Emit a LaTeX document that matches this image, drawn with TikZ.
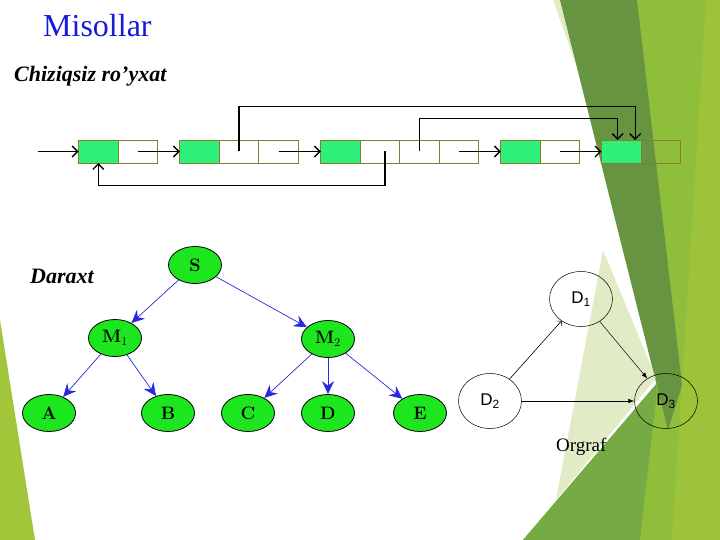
\documentclass[tikz,border=0pt]{standalone}
\usepackage{fontspec}
\newfontfamily\timesfont{Liberation Serif}
\newfontfamily\arialfont{Liberation Sans}
\usetikzlibrary{positioning, arrows.meta, shapes.geometric}
\definecolor{cellgreen}{RGB}{44,240,120}
\definecolor{celledge}{RGB}{135,125,50}
\definecolor{treegreen}{RGB}{30,230,30}
\definecolor{treeblue}{RGB}{40,40,225}
\definecolor{titleblue}{RGB}{25,25,220}
\definecolor{leafgreen}{RGB}{143,190,58}
\definecolor{darkleaf}{RGB}{102,148,64}
\definecolor{midleaf}{RGB}{118,170,68}
\definecolor{paleleaf}{RGB}{205,222,160}
\definecolor{edgeleaf}{RGB}{162,198,58}
\newcommand{\listarrow}{-{Straight Barb[length=5.5pt,width=11pt]}}
\newcommand{\treearrow}{-{Stealth[length=13pt,width=12pt,inset=4.5pt]}}
\newcommand{\openarrow}{-{Straight Barb[length=3pt,width=7pt]}}
\newcommand{\smallarrow}{-{Latex[length=6pt,width=4.5pt]}}
\tikzset{
  cell/.style={draw=celledge, line width=0.8pt, minimum width=39.5pt,
    minimum height=23pt, inner sep=0pt, outer sep=0pt},
  datacell/.style={cell, fill=cellgreen},
  treenode/.style={ellipse, draw, fill=treegreen, line width=0.8pt,
    minimum width=53pt, minimum height=37pt, inner sep=0pt,
    font=\bfseries\fontsize{18}{18}\selectfont},
  vertex/.style={ellipse, draw, line width=0.5pt, minimum width=63pt,
    minimum height=55pt, inner sep=0pt, font=\arialfont\fontsize{17}{17}\selectfont},
  heading/.style={anchor=base west, inner sep=0pt},
}

\begin{document}
\begin{tikzpicture}[x=1pt, y=-1pt]
  \useasboundingbox (0,0) rectangle (720,540);
  % slide background
  \fill[edgeleaf] (0,320) -- (35,540) -- (0,540) -- cycle;
  \fill[leafgreen] (637,0) -- (720,0) -- (720,540) -- (523,540) -- (658,382) -- cycle;
  \fill[edgeleaf, opacity=0.7] (706,0) -- (720,0) -- (720,540) -- (672,540) -- cycle;
  \fill[paleleaf, opacity=0.6] (553,0) -- (575,0) -- (610,160) -- cycle;
  \fill[darkleaf] (560,0) -- (637,0) -- (682,385) -- (668,430) -- cycle;
  \fill[paleleaf, opacity=0.6] (603,250) -- (656,378) -- (556,500) -- cycle;
  \fill[midleaf] (523,540) -- (658,382) -- (640,540) -- cycle;

  \node[heading, font=\timesfont\fontsize{32}{32}\selectfont, text=titleblue] (title) at (43,36.5) {Misollar};
  \node[heading, font=\timesfont\bfseries\itshape\fontsize{22}{22}\selectfont] (listlabel) at (14,81.7) {Chiziqsiz ro’yxat};

  % linked list
  \node[datacell] (a1) at (98.3,151.5) {};
  \node[cell, right=0pt of a1] (a2) {};
  \node[datacell] (b1) at (199.5,151.5) {};
  \node[cell, right=0pt of b1] (b2) {};
  \node[cell, right=0pt of b2] (b3) {};
  \node[datacell] (c1) at (340.5,151.5) {};
  \node[cell, right=0pt of c1] (c2) {};
  \node[cell, right=0pt of c2] (c3) {};
  \node[cell, right=0pt of c3] (c4) {};
  \node[datacell] (d1) at (520.5,151.5) {};
  \node[cell, right=0pt of d1] (d2) {};
  \node[datacell] (e1) at (621.2,151.5) {};
  \node[cell, right=0pt of e1] (e2) {};
  \coordinate (start) at (38,151.5);

  \begin{scope}[line width=1.3pt]
    \draw[\listarrow] (start) -- (a1.west);
    \draw[\listarrow] (a2.center) -- (b1.west);
    \draw[\listarrow] (b3.center) -- (c1.west);
    \draw[\listarrow] (c4.center) -- (d1.west);
    \draw[\listarrow] (d2.center) -- (e1.west);
    \draw[\listarrow] ([xshift=5pt]c2.center) -- ++(0,34) -| (a1.south);
    \draw[\listarrow] (b2.center) -- ++(0,-45) -| ([xshift=14pt]e1.north);
    \draw[\listarrow] (c3.center) -- ++(0,-33) -| ([xshift=-3.5pt]e1.north);
  \end{scope}

  % tree
  \node[heading, font=\timesfont\bfseries\itshape\fontsize{22}{22}\selectfont] (treelabel) at (30,283) {Daraxt};
  \node[treenode] (S) at (195,265) {S};
  \node[treenode] (M1) at (115,338) {M$_1$};
  \node[treenode] (M2) at (328,339) {M$_2$};
  \node[treenode] (A) at (49,413) {A};
  \node[treenode] (B) at (168,413) {B};
  \node[treenode] (C) at (248,413) {C};
  \node[treenode] (D) at (328,413) {D};
  \node[treenode] (E) at (420,413) {E};
  \begin{scope}[treeblue, line width=0.7pt]
    \draw[\treearrow] (S) -- (M1);
    \draw[\treearrow] (S) -- (M2);
    \draw[\treearrow] (M1) -- (A);
    \draw[\treearrow] (M1) -- (B);
    \draw[\treearrow] (M2) -- (C);
    \draw[\treearrow] (M2) -- (D);
    \draw[\treearrow] (M2) -- (E);
  \end{scope}

  % digraph
  \node[vertex] (D1) at (581,299) {D\textsubscript{1}};
  \node[vertex] (D2) at (490,401) {D\textsubscript{2}};
  \node[vertex] (D3) at (666,401) {D\textsubscript{3}};
  \draw[\openarrow, line width=0.6pt] (D2) -- (D1);
  \draw[\smallarrow, line width=0.5pt] (D1) -- (D3);
  \draw[\smallarrow, line width=0.5pt] (D2) -- (D3);
  \node[heading, font=\timesfont\fontsize{19}{19}\selectfont] (graphlabel) at (556,451.7) {Orgraf};
\end{tikzpicture}
\end{document}
